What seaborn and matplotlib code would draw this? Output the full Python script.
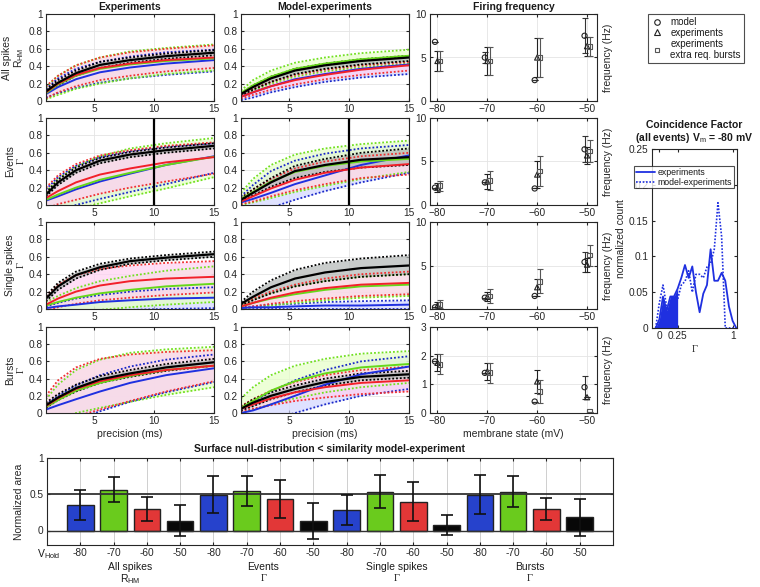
import matplotlib
matplotlib.use("Agg")
import matplotlib.pyplot as plt
from matplotlib.lines import Line2D
from matplotlib.ticker import FormatStrFormatter
import numpy as np
import pandas as pd
import seaborn as sns

# ---------------------------------------------------------------- data
PREC = [1, 2, 3.5, 5.5, 8, 11, 15]          # precision (ms) sample points
# every array below: rows = blue (-80), green (-70), red (-60), black (-50)
EXP_ALL_MEAN = [[0.08, 0.16, 0.25, 0.33, 0.385, 0.43, 0.47], [0.09, 0.19, 0.29, 0.37, 0.42, 0.46, 0.49],
                [0.10, 0.20, 0.30, 0.38, 0.43, 0.47, 0.50], [0.11, 0.21, 0.32, 0.415, 0.47, 0.515, 0.555]]
EXP_ALL_LO = [[0.04, 0.09, 0.15, 0.21, 0.26, 0.30, 0.34], [0.02, 0.07, 0.14, 0.20, 0.26, 0.31, 0.35],
              [0.03, 0.10, 0.17, 0.24, 0.29, 0.34, 0.38], [0.09, 0.18, 0.29, 0.38, 0.44, 0.485, 0.525]]
EXP_ALL_HI = [[0.14, 0.26, 0.37, 0.45, 0.51, 0.56, 0.59], [0.16, 0.29, 0.41, 0.50, 0.57, 0.61, 0.65],
              [0.17, 0.29, 0.41, 0.50, 0.56, 0.60, 0.64], [0.13, 0.24, 0.35, 0.45, 0.50, 0.545, 0.585]]

MOD_ALL_MEAN = [[0.05, 0.10, 0.17, 0.25, 0.31, 0.37, 0.42], [0.09, 0.18, 0.28, 0.37, 0.43, 0.48, 0.52],
                [0.05, 0.10, 0.17, 0.24, 0.30, 0.36, 0.41], [0.08, 0.16, 0.26, 0.35, 0.41, 0.46, 0.50]]
MOD_ALL_LO = [[0.01, 0.04, 0.10, 0.16, 0.22, 0.27, 0.31], [0.05, 0.12, 0.20, 0.28, 0.34, 0.39, 0.43],
              [0.03, 0.07, 0.13, 0.19, 0.25, 0.30, 0.35], [0.06, 0.13, 0.22, 0.31, 0.37, 0.42, 0.46]]
MOD_ALL_HI = [[0.09, 0.17, 0.27, 0.36, 0.42, 0.47, 0.51], [0.12, 0.24, 0.35, 0.44, 0.50, 0.55, 0.59],
              [0.07, 0.14, 0.22, 0.30, 0.36, 0.41, 0.45], [0.09, 0.18, 0.28, 0.37, 0.43, 0.48, 0.52]]

EXP_EV_MEAN = [[0.05, 0.10, 0.18, 0.27, 0.36, 0.46, 0.56], [0.06, 0.12, 0.20, 0.29, 0.37, 0.46, 0.555],
               [0.08, 0.16, 0.26, 0.35, 0.42, 0.49, 0.55], [0.12, 0.26, 0.40, 0.51, 0.58, 0.63, 0.68]]
EXP_EV_LO = [[-0.12, -0.07, 0.00, 0.07, 0.15, 0.24, 0.37], [-0.15, -0.10, -0.05, 0.02, 0.10, 0.19, 0.32],
             [-0.04, 0.01, 0.06, 0.13, 0.20, 0.27, 0.36], [0.10, 0.23, 0.37, 0.48, 0.55, 0.60, 0.65]]
EXP_EV_HI = [[0.18, 0.32, 0.45, 0.55, 0.62, 0.67, 0.71], [0.15, 0.30, 0.44, 0.56, 0.65, 0.71, 0.77],
             [0.20, 0.34, 0.47, 0.57, 0.63, 0.68, 0.72], [0.14, 0.29, 0.43, 0.54, 0.61, 0.66, 0.71]]

MOD_EV_MEAN = [[0.03, 0.07, 0.14, 0.24, 0.34, 0.46, 0.57], [0.07, 0.15, 0.27, 0.38, 0.45, 0.50, 0.53],
               [0.04, 0.10, 0.19, 0.29, 0.37, 0.43, 0.47], [0.06, 0.14, 0.26, 0.39, 0.46, 0.52, 0.55]]
MOD_EV_LO = [[-0.20, -0.12, -0.03, 0.06, 0.16, 0.26, 0.37], [0.00, 0.03, 0.08, 0.15, 0.22, 0.30, 0.38],
             [0.01, 0.04, 0.10, 0.17, 0.24, 0.31, 0.35], [0.05, 0.11, 0.21, 0.31, 0.38, 0.43, 0.46]]
MOD_EV_HI = [[0.10, 0.23, 0.39, 0.51, 0.59, 0.65, 0.69], [0.14, 0.30, 0.46, 0.58, 0.65, 0.70, 0.74],
             [0.08, 0.18, 0.30, 0.42, 0.50, 0.56, 0.60], [0.08, 0.18, 0.31, 0.45, 0.53, 0.60, 0.65]]

EXP_SS_MEAN = [[0.01, 0.03, 0.05, 0.08, 0.10, 0.12, 0.13], [0.04, 0.08, 0.13, 0.18, 0.22, 0.26, 0.29],
               [0.05, 0.12, 0.20, 0.27, 0.32, 0.35, 0.37], [0.12, 0.26, 0.39, 0.48, 0.55, 0.59, 0.63]]
EXP_SS_LO = [[-0.05, -0.04, -0.03, -0.02, -0.01, 0.00, 0.01], [-0.10, -0.07, -0.04, -0.01, 0.02, 0.05, 0.08],
             [-0.02, 0.02, 0.06, 0.10, 0.13, 0.16, 0.19], [0.09, 0.22, 0.35, 0.45, 0.52, 0.56, 0.60]]
EXP_SS_HI = [[0.03, 0.07, 0.12, 0.16, 0.20, 0.23, 0.25], [0.08, 0.15, 0.24, 0.32, 0.38, 0.44, 0.49],
             [0.15, 0.28, 0.39, 0.46, 0.50, 0.53, 0.55], [0.15, 0.30, 0.43, 0.52, 0.58, 0.62, 0.66]]

MOD_SS_MEAN = [[0.01, 0.02, 0.02, 0.03, 0.04, 0.04, 0.05], [0.03, 0.07, 0.12, 0.17, 0.22, 0.26, 0.28],
               [0.03, 0.07, 0.13, 0.19, 0.24, 0.28, 0.30], [0.06, 0.14, 0.25, 0.35, 0.42, 0.47, 0.50]]
MOD_SS_LO = [[0.00, 0.00, 0.00, 0.00, 0.00, 0.00, 0.00], [0.00, 0.02, 0.04, 0.07, 0.10, 0.13, 0.15],
             [0.01, 0.03, 0.06, 0.09, 0.12, 0.15, 0.17], [0.04, 0.10, 0.18, 0.26, 0.32, 0.37, 0.40]]
MOD_SS_HI = [[0.02, 0.03, 0.05, 0.06, 0.08, 0.09, 0.10], [0.05, 0.11, 0.18, 0.26, 0.32, 0.37, 0.40],
             [0.05, 0.12, 0.20, 0.28, 0.35, 0.40, 0.43], [0.08, 0.20, 0.33, 0.45, 0.53, 0.58, 0.62]]

EXP_BU_MEAN = [[0.04, 0.09, 0.16, 0.25, 0.35, 0.44, 0.52], [0.07, 0.15, 0.26, 0.35, 0.43, 0.50, 0.55],
               [0.08, 0.17, 0.28, 0.37, 0.44, 0.50, 0.55], [0.09, 0.18, 0.29, 0.39, 0.46, 0.53, 0.59]]
EXP_BU_LO = [[-0.20, -0.15, -0.08, 0.02, 0.13, 0.24, 0.36], [-0.10, -0.06, 0.00, 0.06, 0.13, 0.21, 0.30],
             [-0.15, -0.10, -0.04, 0.04, 0.14, 0.25, 0.37], [0.06, 0.15, 0.25, 0.35, 0.42, 0.49, 0.55]]
EXP_BU_HI = [[0.10, 0.20, 0.32, 0.44, 0.54, 0.62, 0.68], [0.16, 0.33, 0.50, 0.62, 0.70, 0.74, 0.77],
             [0.20, 0.38, 0.53, 0.63, 0.68, 0.71, 0.73], [0.12, 0.22, 0.33, 0.43, 0.50, 0.57, 0.63]]

MOD_BU_MEAN = [[0.00, 0.03, 0.10, 0.20, 0.33, 0.45, 0.54], [0.06, 0.14, 0.26, 0.37, 0.46, 0.53, 0.57],
               [0.05, 0.10, 0.17, 0.24, 0.30, 0.35, 0.38], [0.05, 0.12, 0.20, 0.28, 0.36, 0.42, 0.45]]
MOD_BU_LO = [[-0.20, -0.15, -0.08, 0.00, 0.10, 0.20, 0.28], [0.00, 0.04, 0.10, 0.17, 0.24, 0.30, 0.35],
             [0.02, 0.05, 0.09, 0.14, 0.18, 0.22, 0.25], [0.03, 0.08, 0.16, 0.24, 0.32, 0.38, 0.41]]
MOD_BU_HI = [[0.05, 0.13, 0.25, 0.38, 0.50, 0.60, 0.66], [0.17, 0.30, 0.44, 0.55, 0.63, 0.69, 0.72],
             [0.08, 0.16, 0.26, 0.36, 0.44, 0.50, 0.54], [0.07, 0.16, 0.24, 0.32, 0.40, 0.46, 0.49]]

# firing frequency
V_HOLD = [-80, -70, -60, -50]
FREQ_MODEL = [[6.8, 5.0, 2.4, 7.5], [2.0, 2.6, 1.9, 6.4], [0.2, 1.3, 1.5, 5.4], [1.8, 1.4, 0.4, 0.9]]
FREQ_MODEL_ERR = [[0, 0.6, 0, 2.0], [0, 0, 0, 1.5], [0, 0, 0, 1.1], [0, 0, 0, 0.4]]
FREQ_EXP = [[4.6, 4.6, 5.0, 6.3], [2.0, 2.7, 3.5, 5.7], [0.4, 1.4, 2.5, 5.1], [1.75, 1.45, 1.1, 0.55]]
FREQ_EXP_ERR = [[1.2, 1.6, 2.2, 1.1], [0.5, 0.9, 1.6, 1.0], [0.4, 0.5, 1.0, 0.8], [0.3, 0.3, 0.4, 0.0]]
FREQ_BURST = [[4.6, 4.6, 5.0, 6.3], [2.2, 2.8, 3.9, 6.2], [0.55, 1.5, 3.2, 6.2], [1.7, 1.4, 0.75, 0.05]]
FREQ_BURST_ERR = [[1.2, 1.6, 2.2, 1.1], [0.6, 1.1, 1.75, 1.25], [0.45, 0.8, 1.4, 1.2], [0.35, 0.35, 0.4, 0.0]]
FREQ_YMAX = [10, 10, 10, 3]

# coincidence factor histogram
CF_X = [-0.05, 0.0, 0.05, 0.1, 0.15, 0.2, 0.25, 0.3, 0.35, 0.4, 0.45, 0.5, 0.55, 0.6,
        0.65, 0.7, 0.75, 0.8, 0.85, 0.9, 0.95, 1.0, 1.05]
CF_EXP = [0, 0.012, 0.044, 0.024, 0.044, 0.044, 0.055, 0.07, 0.088, 0.07, 0.086, 0.05, 0.022, 0.048,
          0.06, 0.11, 0.066, 0.066, 0.077, 0.066, 0.03, 0.01, 0]
CF_MOD = [0, 0.035, 0.06, 0.03, 0.01, 0.025, 0.04, 0.06, 0.065, 0.08, 0.05, 0.075, 0.075, 0.07,
          0.085, 0.09, 0.11, 0.175, 0.128, 0.0, 0.0, 0.0, 0.0]

# surface bar chart
BAR_LABELS = ["-80", "-70", "-60", "-50"] * 4
BAR_MEAN = [0.355, 0.565, 0.295, 0.135, 0.495, 0.545, 0.43, 0.13,
            0.286, 0.536, 0.40, 0.077, 0.495, 0.536, 0.30, 0.18]
BAR_ERR = [0.21, 0.175, 0.17, 0.215, 0.255, 0.21, 0.26, 0.245,
           0.21, 0.225, 0.27, 0.14, 0.265, 0.21, 0.155, 0.255]
GROUPS = ["All spikes\nR$_{\\mathsf{HM}}$", "Events\n$\\Gamma$", "Single spikes\n$\\Gamma$", "Bursts\n$\\Gamma$"]

# ---------------------------------------------------------------- style
sns.set_style("ticks")
plt.rcParams["font.family"] = ["Liberation Sans", "DejaVu Sans"]
plt.rcParams.update({
    "font.size": 7, "axes.linewidth": 0.8,
    "xtick.direction": "in", "ytick.direction": "in",
    "xtick.major.size": 2.5, "ytick.major.size": 2.5,
    "xtick.major.pad": 2.5, "ytick.major.pad": 2.5,
    "xtick.labelsize": 7.3, "ytick.labelsize": 7.3,
    "axes.edgecolor": "#262626", "xtick.color": "#262626", "ytick.color": "#262626",
    "text.color": "#1a1a1a", "axes.labelcolor": "#262626",
    "mathtext.fontset": "custom", "mathtext.rm": "Liberation Serif",
    "mathtext.sf": "Liberation Sans", "mathtext.it": "Liberation Sans:italic",
})

LINE_C = ["#1f30e0", "#66d81a", "#f2202a", "#000000"]
DOT_C = ["#1a28c8", "#72e020", "#f03030", "#000000"]
FILL_C = ["#d2d6ff", "#e6ffc6", "#ffd0f2", "#b2b7b5"]
BAR_C = ["#0a30e8", "#66e800", "#ff1a1a", "#080808"]
GRID_C = "#e4e4e4"

W, H = 760, 587
fig = plt.figure(figsize=(7.6, 5.87), dpi=100)


def box(l, t, r, b):
    return [l / W, 1 - b / H, (r - l) / W, (b - t) / H]


COLS_X = [(46, 214), (241, 409), (430, 597)]
ROWS_Y = [(14, 101), (118, 205), (222, 309), (327, 413)]
ROW_LABELS = ["All spikes\nR$_{\\mathsf{HM}}$", "Events\n$\\Gamma$", "Single spikes\n$\\Gamma$", "Bursts\n$\\Gamma$"]
CURVES = [
    [(EXP_ALL_MEAN, EXP_ALL_LO, EXP_ALL_HI), (MOD_ALL_MEAN, MOD_ALL_LO, MOD_ALL_HI)],
    [(EXP_EV_MEAN, EXP_EV_LO, EXP_EV_HI), (MOD_EV_MEAN, MOD_EV_LO, MOD_EV_HI)],
    [(EXP_SS_MEAN, EXP_SS_LO, EXP_SS_HI), (MOD_SS_MEAN, MOD_SS_LO, MOD_SS_HI)],
    [(EXP_BU_MEAN, EXP_BU_LO, EXP_BU_HI), (MOD_BU_MEAN, MOD_BU_LO, MOD_BU_HI)],
]


def style_box(ax):
    ax.tick_params(top=True, right=True, which="both", length=2.5)
    for s in ax.spines.values():
        s.set_visible(True)
        s.set_color("#262626")
        s.set_linewidth(0.8)


for r, (t, b) in enumerate(ROWS_Y):
    for c in range(2):
        l, rr = COLS_X[c]
        ax = fig.add_axes(box(l, t, rr, b))
        mean, lo, hi = CURVES[r][c]
        for k in range(4):
            ax.fill_between(PREC, lo[k], hi[k], color=FILL_C[k], alpha=0.7, lw=0)
        for k in range(4):
            for arr in (lo, hi):
                sns.lineplot(x=PREC, y=arr[k], ax=ax, color=DOT_C[k], lw=1.3,
                             linestyle=(0, (1, 1.1)), sort=False, estimator=None)
        for k in range(4):
            sns.lineplot(x=PREC, y=mean[k], ax=ax, color=LINE_C[k], lw=1.4 if k < 3 else 1.6,
                         sort=False, estimator=None)
        if r == 1:
            ax.axvline(10, color="k", lw=1.6)
        ax.set_xlim(1, 15)
        ax.set_ylim(0, 1)
        ax.set_xticks([5, 10, 15])
        ax.set_yticks([0, 0.2, 0.4, 0.6, 0.8, 1])
        ax.yaxis.set_major_formatter(FormatStrFormatter("%g"))
        ax.grid(True, color=GRID_C, lw=0.6)
        style_box(ax)
        if c == 0:
            ax.set_ylabel(ROW_LABELS[r], fontsize=7.5, labelpad=2, linespacing=1.0)
        if r == 3:
            ax.set_xlabel("precision (ms)", fontsize=7.5, labelpad=2)
        if r == 0:
            ax.set_title(["Experiments", "Model-experiments"][c], fontsize=7.5,
                         fontweight="bold", pad=3)

    # firing frequency column
    l, rr = COLS_X[2]
    ax = fig.add_axes(box(l, t, rr, b))
    v = np.array(V_HOLD, dtype=float)
    ax.errorbar(v - 0.5, FREQ_MODEL[r], yerr=FREQ_MODEL_ERR[r], fmt="none", ecolor="#333",
                elinewidth=0.8, capsize=2.5, capthick=0.8)
    ax.errorbar(v, FREQ_EXP[r], yerr=FREQ_EXP_ERR[r], fmt="none", ecolor="#222",
                elinewidth=0.8, capsize=2.5, capthick=0.8)
    ax.errorbar(v + 0.5, FREQ_BURST[r], yerr=FREQ_BURST_ERR[r], fmt="none", ecolor="#555",
                elinewidth=0.8, capsize=2.5, capthick=0.8)
    sns.scatterplot(x=v - 0.5, y=FREQ_MODEL[r], ax=ax, marker="o", s=14, color="k",
                    facecolor="none", edgecolor="#222", linewidth=0.8, zorder=3)
    sns.scatterplot(x=v, y=FREQ_EXP[r], ax=ax, marker="^", s=14, color="k",
                    facecolor="none", edgecolor="#222", linewidth=0.8, zorder=3)
    sns.scatterplot(x=v + 0.5, y=FREQ_BURST[r], ax=ax, marker="s", s=12, color="k",
                    facecolor="none", edgecolor="#555", linewidth=0.8, zorder=3)
    ax.set_xlim(-81.5, -48)
    ymax = FREQ_YMAX[r]
    ax.set_ylim(0, ymax)
    ax.set_yticks([0, 5, 10] if ymax == 10 else [0, 1, 2, 3])
    ax.set_xticks(V_HOLD)
    ax.grid(True, color=GRID_C, lw=0.6)
    style_box(ax)
    ax.yaxis.set_label_position("right")
    ax.set_ylabel("frequency (Hz)", fontsize=7.5, labelpad=4)
    if r == 0:
        ax.set_title("Firing frequency", fontsize=7.5, fontweight="bold", pad=3)
    if r == 3:
        ax.set_xlabel("membrane state (mV)", fontsize=7.5, labelpad=2)

# legend for the frequency markers
leg_handles = [
    Line2D([], [], ls="", marker="o", mfc="none", mec="#222", ms=4, mew=0.8),
    Line2D([], [], ls="", marker="^", mfc="none", mec="#222", ms=4, mew=0.8),
    Line2D([], [], ls="", marker="s", mfc="none", mec="#555", ms=3.5, mew=0.8),
]
leg = fig.legend(leg_handles, ["model", "experiments", "experiments\nextra req. bursts"],
                 loc="upper left", bbox_to_anchor=(648 / W, 1 - 14 / H), fontsize=7,
                 frameon=True, fancybox=False, edgecolor="#222", borderpad=0.3,
                 labelspacing=0.1, handlelength=1.2, handletextpad=0.8, borderaxespad=0)
leg.get_frame().set_linewidth(0.8)

# ---------------------------------------------------------------- coincidence factor
axh = fig.add_axes(box(652, 149, 737, 328))
cfx = np.array(CF_X)
cfe = np.array(CF_EXP)
m = cfx <= 0.25
axh.fill_between(cfx[m], 0, cfe[m], color=LINE_C[0], lw=0)
sns.lineplot(x=CF_X, y=CF_EXP, ax=axh, color=LINE_C[0], lw=1.3, sort=False, estimator=None)
sns.lineplot(x=CF_X, y=CF_MOD, ax=axh, color=LINE_C[0], lw=1.2, linestyle=(0, (1, 1)),
             sort=False, estimator=None)
axh.set_xlim(-0.1, 1.06)
axh.set_ylim(0, 0.25)
axh.set_xticks([0, 0.25, 1])
axh.set_xticklabels(["0", "0.25", "1"])
axh.set_yticks([0, 0.05, 0.1, 0.15, 0.2, 0.25])
axh.yaxis.set_major_formatter(FormatStrFormatter("%g"))
style_box(axh)
axh.set_xlabel("$\\Gamma$", fontsize=7.5, labelpad=1)
axh.set_ylabel("normalized count", fontsize=7.5, labelpad=2)
axh.set_title("Coincidence Factor\n(all events) V$_{\\mathsf{m}}$ = -80 mV", fontsize=7.5,
              fontweight="bold", pad=6, linespacing=1.05)
hleg = axh.legend([Line2D([], [], color=LINE_C[0], lw=1.3),
                   Line2D([], [], color=LINE_C[0], lw=1.2, ls=(0, (1, 1)))],
                  ["experiments", "model-experiments"], loc="upper left",
                  bbox_to_anchor=(634 / W, 1 - 166 / H), bbox_transform=fig.transFigure,
                  fontsize=6.3, frameon=True, fancybox=False, edgecolor="#222",
                  borderpad=0.2, labelspacing=0.1, handlelength=2.2, handletextpad=0.3,
                  borderaxespad=0)
hleg.get_frame().set_linewidth(0.8)

# ---------------------------------------------------------------- bar chart
axb = fig.add_axes(box(47, 458, 613, 545))
pos = np.arange(1, 17)
df = pd.DataFrame({"pos": pos, "val": BAR_MEAN, "cond": BAR_LABELS})
sns.barplot(data=df, x="pos", y="val", hue="cond", hue_order=["-80", "-70", "-60", "-50"],
            palette=dict(zip(["-80", "-70", "-60", "-50"], BAR_C)), native_scale=True,
            dodge=False, legend=False, errorbar=None, width=0.8, edgecolor="#222",
            linewidth=1.0, ax=axb, zorder=2)
axb.errorbar(pos, BAR_MEAN, yerr=BAR_ERR, fmt="none", ecolor="#111", elinewidth=1.2,
             capsize=4, capthick=1.2, zorder=4)
axb.axhline(0.5, color="#333", lw=1.3, zorder=3)
axb.axhline(0, color="#333", lw=1.0, zorder=3)
axb.set_xlim(0, 17)
axb.set_ylim(-0.2, 1)
axb.set_xticks(pos)
axb.set_xticklabels(BAR_LABELS)
axb.set_yticks([0, 0.5, 1])
axb.yaxis.set_major_formatter(FormatStrFormatter("%g"))
axb.grid(True, axis="x", color="#cfcfcf", lw=0.7, zorder=0)
axb.set_axisbelow(True)
style_box(axb)
axb.set_xlabel("")
axb.set_ylabel("Normalized area", fontsize=7.5, labelpad=4)
axb.set_title("Surface null-distribution < similarity model-experiment", fontsize=7.5,
              fontweight="bold", pad=4)
axb.text(0.05, -0.031, "V$_{\\mathsf{Hold}}$", transform=axb.get_xaxis_transform(),
         ha="center", va="top", fontsize=7.5)
for g, name in enumerate(GROUPS):
    axb.text(2.5 + 4 * g, -0.2, name, transform=axb.get_xaxis_transform(),
             ha="center", va="top", fontsize=7.5, linespacing=1.0)

fig.savefig("out.png", dpi=100)
